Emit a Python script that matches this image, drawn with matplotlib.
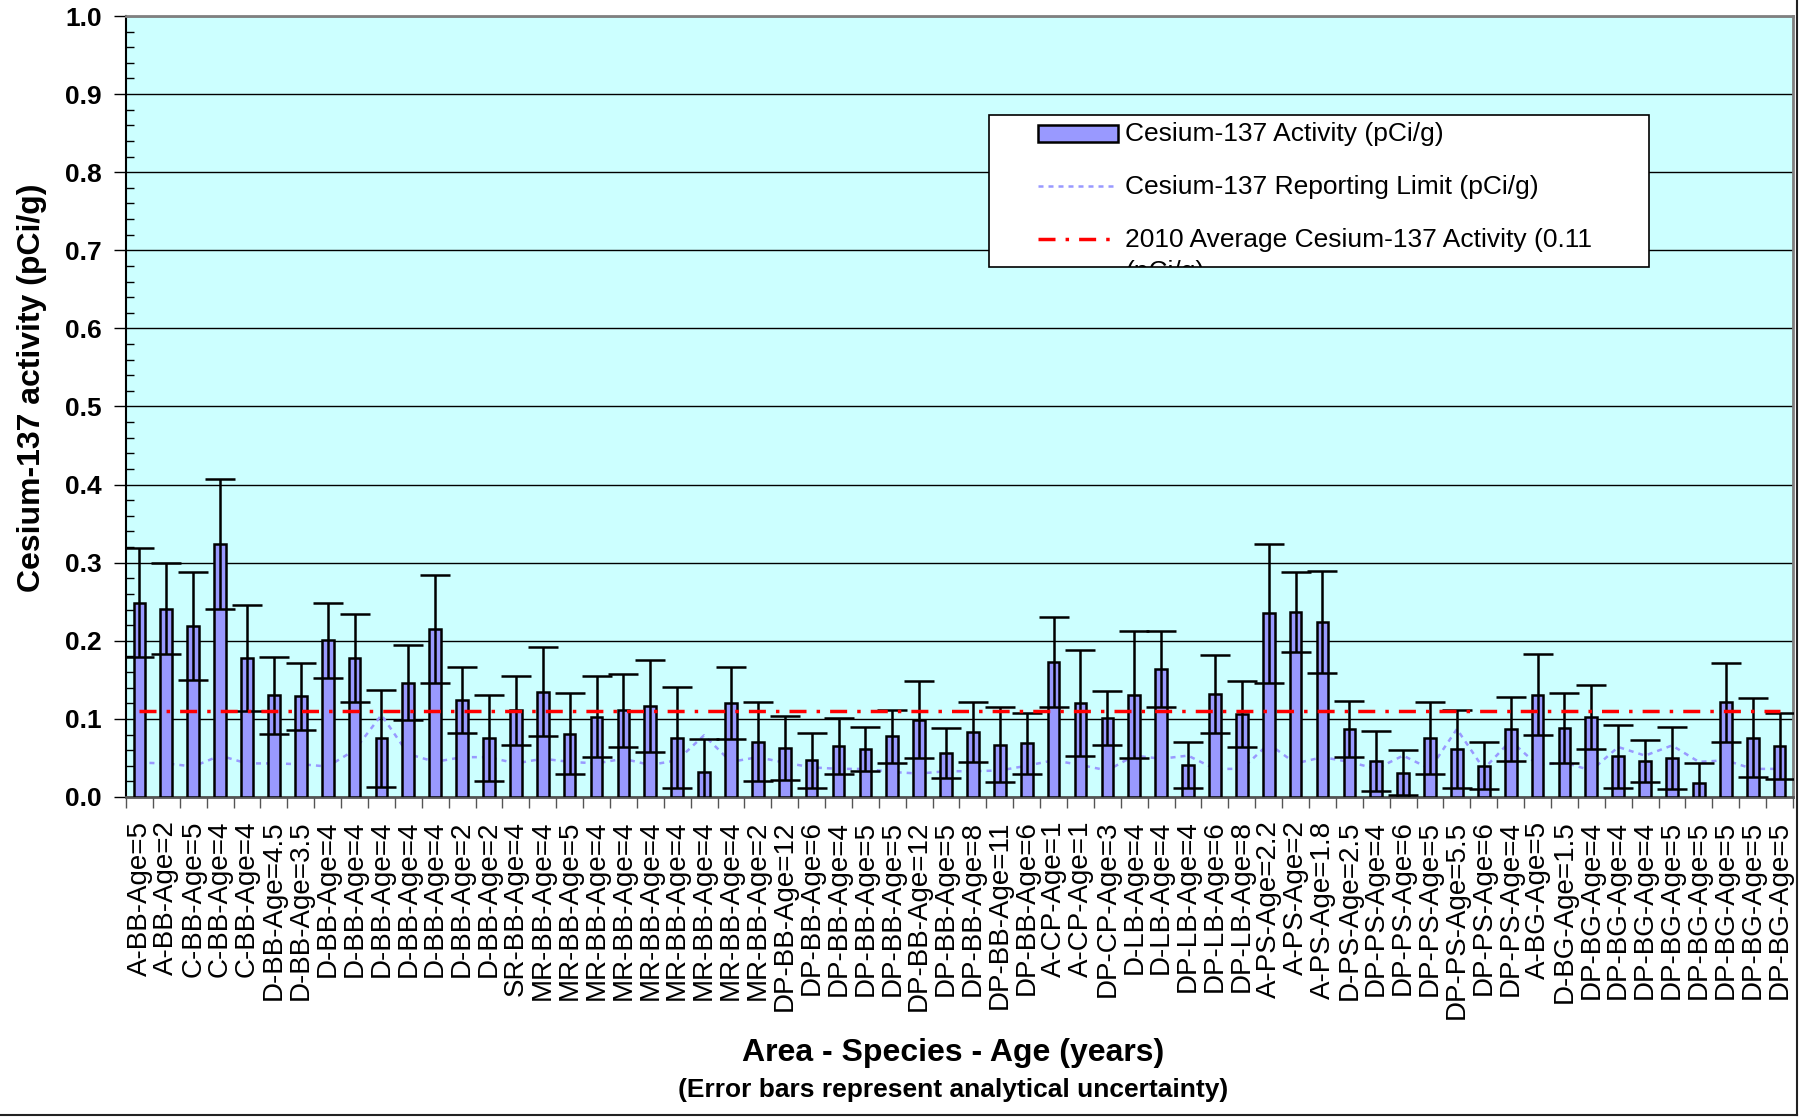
import numpy as np
import matplotlib
matplotlib.use("Agg")
import matplotlib.pyplot as plt
from matplotlib.patches import Rectangle
from matplotlib.lines import Line2D
from matplotlib.ticker import MultipleLocator, FixedLocator

plt.rcParams['font.family'] = ['Liberation Sans', 'DejaVu Sans']

# ---------------------------------------------------------------- data
labels = ['A-BB-Age=5', 'A-BB-Age=2', 'C-BB-Age=5', 'C-BB-Age=4', 'C-BB-Age=4',
          'D-BB-Age=4.5', 'D-BB-Age=3.5', 'D-BB-Age=4', 'D-BB-Age=4', 'D-BB-Age=4',
          'D-BB-Age=4', 'D-BB-Age=4', 'D-BB-Age=2', 'D-BB-Age=2', 'SR-BB-Age=4',
          'MR-BB-Age=4', 'MR-BB-Age=5', 'MR-BB-Age=4', 'MR-BB-Age=4', 'MR-BB-Age=4',
          'MR-BB-Age=4', 'MR-BB-Age=4', 'MR-BB-Age=4', 'MR-BB-Age=2', 'DP-BB-Age=12',
          'DP-BB-Age=6', 'DP-BB-Age=4', 'DP-BB-Age=5', 'DP-BB-Age=5', 'DP-BB-Age=12',
          'DP-BB-Age=5', 'DP-BB-Age=8', 'DP-BB-Age=11', 'DP-BB-Age=6', 'A-CP-Age=1',
          'A-CP-Age=1', 'DP-CP-Age=3', 'D-LB-Age=4', 'D-LB-Age=4', 'DP-LB-Age=4',
          'DP-LB-Age=6', 'DP-LB-Age=8', 'A-PS-Age=2.2', 'A-PS-Age=2', 'A-PS-Age=1.8',
          'D-PS-Age=2.5', 'DP-PS-Age=4', 'DP-PS-Age=6', 'DP-PS-Age=5', 'DP-PS-Age=5.5',
          'DP-PS-Age=6', 'DP-PS-Age=4', 'A-BG-Age=5', 'D-BG-Age=1.5', 'DP-BG-Age=4',
          'DP-BG-Age=4', 'DP-BG-Age=4', 'DP-BG-Age=5', 'DP-BG-Age=5', 'DP-BG-Age=5',
          'DP-BG-Age=5', 'DP-BG-Age=5']

# Cs-137 activity (pCi/g)
activity = [0.249, 0.241, 0.219, 0.324, 0.178, 0.130, 0.129, 0.201, 0.178, 0.075,
            0.146, 0.215, 0.124, 0.076, 0.111, 0.135, 0.081, 0.103, 0.111, 0.117,
            0.076, 0.032, 0.120, 0.071, 0.063, 0.047, 0.065, 0.061, 0.078, 0.099,
            0.056, 0.083, 0.067, 0.069, 0.173, 0.120, 0.101, 0.131, 0.164, 0.041,
            0.132, 0.106, 0.235, 0.237, 0.224, 0.087, 0.046, 0.031, 0.076, 0.062,
            0.040, 0.087, 0.131, 0.088, 0.103, 0.052, 0.046, 0.050, 0.018, 0.121,
            0.076, 0.065]

# analytical uncertainty (pCi/g)
uncertainty = [0.070, 0.058, 0.069, 0.083, 0.068, 0.049, 0.043, 0.048, 0.056, 0.062,
               0.048, 0.069, 0.042, 0.055, 0.044, 0.057, 0.052, 0.052, 0.047, 0.059,
               0.065, 0.042, 0.046, 0.050, 0.041, 0.035, 0.036, 0.028, 0.034, 0.049,
               0.032, 0.038, 0.048, 0.039, 0.058, 0.068, 0.035, 0.081, 0.049, 0.030,
               0.050, 0.042, 0.089, 0.051, 0.065, 0.036, 0.038, 0.029, 0.046, 0.050,
               0.030, 0.041, 0.052, 0.045, 0.041, 0.040, 0.027, 0.040, 0.025, 0.050,
               0.051, 0.042]

# reporting limit (pCi/g)
report_limit = [0.044, 0.043, 0.039, 0.053, 0.043, 0.043, 0.042, 0.039, 0.060, 0.105,
                0.055, 0.045, 0.051, 0.051, 0.043, 0.049, 0.045, 0.043, 0.049, 0.041,
                0.047, 0.079, 0.045, 0.051, 0.044, 0.038, 0.036, 0.036, 0.032, 0.030,
                0.033, 0.033, 0.034, 0.040, 0.047, 0.041, 0.034, 0.053, 0.049, 0.053,
                0.036, 0.036, 0.068, 0.043, 0.051, 0.045, 0.036, 0.053, 0.036, 0.087,
                0.036, 0.072, 0.041, 0.044, 0.034, 0.064, 0.053, 0.066, 0.045, 0.047,
                0.036, 0.036]

avg_2010 = 0.11

bar_color = '#9999FF'
avg_dashes = (4.9, 2.9, 1.0, 2.9)
W, H = 1808, 1118

fig = plt.figure(figsize=(W / 100, H / 100), dpi=100)
ax = fig.add_axes([126 / W, 1 - 797 / H, 1667 / W, 781 / H])
ax.set_facecolor('#CCFFFF')

x = np.arange(len(labels))

ax.bar(x, activity, width=0.435, color=bar_color, edgecolor='black', linewidth=1.8, zorder=3)
ax.errorbar(x, activity, yerr=uncertainty, fmt='none', ecolor='black',
            elinewidth=1.8, capsize=11, capthick=1.8, zorder=4)
ax.plot(x, report_limit, color=bar_color, lw=1.8, dashes=(2, 2), zorder=2.5)
ax.plot(x, [avg_2010] * len(x), color='red', lw=2.5,
        dashes=avg_dashes, dash_capstyle='butt', zorder=6)

ax.set_xlim(-0.5, len(x) - 0.5)
ax.set_ylim(0, 1.0)

# y axis
ax.yaxis.set_major_locator(MultipleLocator(0.1))
ax.yaxis.set_minor_locator(MultipleLocator(0.02))
ax.yaxis.set_major_formatter(matplotlib.ticker.FormatStrFormatter('%.1f'))
ax.tick_params(axis='y', which='major', direction='out', length=9, width=1,
               pad=8.5, labelsize=19)
ax.tick_params(axis='y', which='minor', direction='in', length=6, width=1)
for t in ax.get_yticklabels():
    t.set_fontweight('bold')
ax.yaxis.grid(True, which='major', color='black', lw=1)
ax.set_axisbelow(True)

# x axis: labels at bar centres, tick marks at category edges
ax.set_xticks(x)
ax.set_xticklabels(labels, rotation=90, fontsize=20)
ax.xaxis.set_minor_locator(FixedLocator(np.arange(-0.5, len(x), 1.0)))
ax.tick_params(axis='x', which='major', length=0, pad=17)
ax.tick_params(axis='x', which='minor', direction='out', length=8, width=1, color='#555555')

for side in ('top', 'right'):
    ax.spines[side].set_color('#808080')
    ax.spines[side].set_linewidth(2)
ax.spines['left'].set_color('black')
ax.spines['left'].set_linewidth(1.5)
ax.spines['bottom'].set_color('#555555')
ax.spines['bottom'].set_linewidth(2)

# axis titles
fig.text(32 / W, 1 - 388 / H, 'Cesium-137 activity (pCi/g)', rotation=90,
         ha='center', va='center', fontsize=23, fontweight='bold')
fig.text(953 / W, 1 - 1053 / H, 'Area - Species - Age (years)',
         ha='center', va='center', fontsize=23, fontweight='bold')
fig.text(953 / W, 1 - 1090 / H, '(Error bars represent analytical uncertainty)',
         ha='center', va='center', fontsize=19, fontweight='bold')

# legend box
def fx(px):
    return (px - 126) / 1667


def fy(py):
    return (796.7 - py) / 781


box = Rectangle((fx(989), fy(267)), fx(1649) - fx(989), fy(115) - fy(267),
                transform=ax.transAxes, facecolor='white', edgecolor='black',
                lw=1.2, zorder=10)
ax.add_patch(box)

hx0, hx1 = fx(1038), fx(1118)
ax.add_patch(Rectangle((hx0, fy(133) - 0.0109), hx1 - hx0, 0.0218, transform=ax.transAxes,
                       facecolor=bar_color, edgecolor='black', lw=1.8, zorder=11))
ax.add_line(Line2D([hx0, hx1], [fy(186)] * 2, transform=ax.transAxes, color=bar_color,
                   lw=1.8, dashes=(2, 2), zorder=11))
ax.add_line(Line2D([hx0, hx1], [fy(239)] * 2, transform=ax.transAxes, color='red',
                   lw=2.5, dashes=avg_dashes, dash_capstyle='butt', zorder=11))

legend_text = [('Cesium-137 Activity (pCi/g)', 134),
               ('Cesium-137 Reporting Limit (pCi/g)', 187),
               ('2010 Average Cesium-137 Activity (0.11', 240),
               ('(pCi/g)', 272)]
for txt, py in legend_text:
    t = ax.text(fx(1125), fy(py), txt, transform=ax.transAxes, ha='left', va='center',
                fontsize=19, zorder=12)
    t.set_clip_on(True)
    t.set_clip_path(box)

# chart frame (right and bottom edges)
fig.add_artist(Line2D([1797.5 / W] * 2, [3 / H, 1], color='#222222', lw=1.5))
fig.add_artist(Line2D([0, 1797.5 / W], [3 / H] * 2, color='#222222', lw=1.5))

fig.savefig('out.png', dpi=100)
